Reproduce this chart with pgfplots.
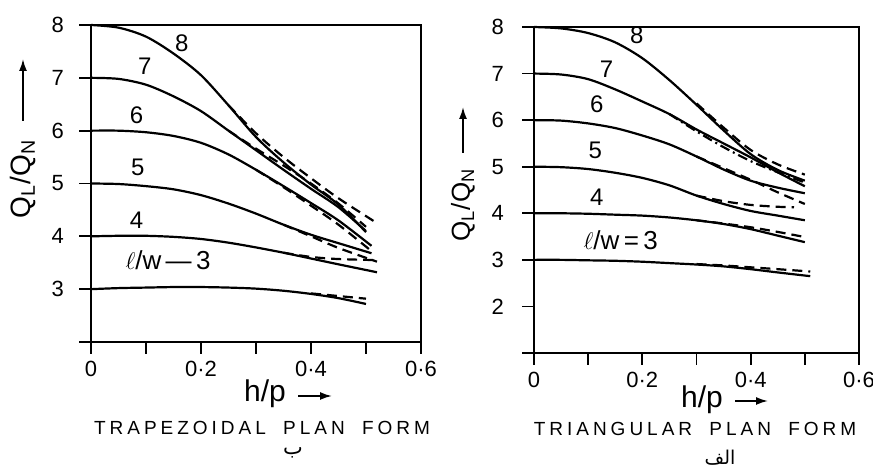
\documentclass[border=0pt]{standalone}
\usepackage{fontspec}
\setmainfont{Liberation Sans}
\newfontfamily\arabicfont[Script=Arabic]{DejaVu Sans}
\usepackage{pgfplots}
\pgfplotsset{compat=1.18}
\usetikzlibrary{arrows.meta}
\TeXXeTstate=1
\pgfplotsset{
  panel/.style={
    scale only axis, clip=false,
    xmin=0, xmax=0.6,
    xtick={0,0.2,0.4,0.6}, xticklabels={0,0·2,0·4,0·6},
    minor xtick={0.1,0.3,0.5},
    tick pos=left, tick align=outside,
    major tick length=6pt, minor tick length=6pt,
    axis line style={line width=0.9pt},
    tick style={black, line width=0.9pt},
    ticklabel style={font=\fontsize{11}{13}\selectfont},
    /pgf/number format/assume math mode=true,
    cycle list={{black,solid}},
    every axis plot/.append style={black, line width=1.1pt, no markers, smooth},
  },
}
\tikzset{
  dsh/.style={dash pattern=on 5pt off 3pt},
  cl/.style={font=\fontsize{12}{14}\selectfont},
  lw/.style={font=\fontsize{13}{15}\selectfont},
}
\begin{document}
\begin{tikzpicture}
\useasboundingbox (0,0) rectangle (436.5pt,235.5pt);
% ---------------- left: trapezoidal
\begin{axis}[panel, at={(45.5pt,64.5pt)}, anchor=south west,
  width=165pt, height=158.5pt, ymin=2, ymax=8,
  ytick={2,3,4,5,6,7,8}, yticklabels={,3,4,5,6,7,8},
  yticklabel style={xshift=-4pt}]
\addplot coordinates {(0,8)(0.05,7.95)(0.1,7.78)(0.15,7.46)(0.2,7.05)(0.25,6.48)(0.3,5.88)(0.35,5.40)(0.4,4.98)(0.45,4.6)(0.5,4.08)};
\addplot[dsh] coordinates {(0.25,6.48)(0.3,5.95)(0.35,5.5)(0.4,5.1)(0.45,4.72)(0.52,4.25)};
\addplot coordinates {(0,7)(0.05,6.98)(0.1,6.87)(0.15,6.65)(0.2,6.37)(0.25,6.0)(0.3,5.63)(0.35,5.26)(0.4,4.9)(0.45,4.55)(0.5,4.1)};
\addplot[dsh] coordinates {(0.25,6.0)(0.3,5.66)(0.35,5.34)(0.4,5.0)(0.45,4.62)(0.5,4.18)};
\addplot coordinates {(0,6)(0.05,6.0)(0.1,5.97)(0.15,5.9)(0.2,5.77)(0.25,5.55)(0.3,5.26)(0.35,4.95)(0.4,4.63)(0.45,4.3)(0.51,3.82)};
\addplot[dsh] coordinates {(0.3,5.26)(0.35,4.93)(0.4,4.58)(0.45,4.22)(0.51,3.72)};
\addplot coordinates {(0,5)(0.05,4.99)(0.1,4.95)(0.15,4.89)(0.2,4.78)(0.25,4.62)(0.3,4.43)(0.35,4.22)(0.4,4.03)(0.45,3.87)(0.51,3.68)};
\addplot[dsh] coordinates {(0.35,4.22)(0.4,4.0)(0.45,3.78)(0.52,3.52)};
\addplot coordinates {(0,4)(0.05,4.01)(0.1,4.01)(0.15,3.99)(0.2,3.95)(0.25,3.88)(0.3,3.79)(0.35,3.69)(0.4,3.58)(0.45,3.47)(0.52,3.32)};
\addplot[dsh] coordinates {(0.35,3.69)(0.4,3.61)(0.45,3.57)(0.52,3.55)};
\addplot coordinates {(0,3)(0.05,3.02)(0.1,3.03)(0.15,3.04)(0.2,3.04)(0.25,3.03)(0.3,3.01)(0.35,2.97)(0.4,2.91)(0.45,2.83)(0.5,2.72)};
\addplot[dsh] coordinates {(0.4,2.92)(0.45,2.87)(0.5,2.82)};
\node[cl] at (axis cs:0.165,7.65) {8};
\node[cl] at (axis cs:0.098,7.22) {7};
\node[cl] at (axis cs:0.083,6.3) {6};
\node[cl] at (axis cs:0.085,5.3) {5};
\node[cl] at (axis cs:0.083,4.3) {4};
\node[lw] at (axis cs:0.14,3.55) {$\ell$/w\,—\,3};
\end{axis}
% ---------------- right: triangular
\begin{axis}[panel, at={(267pt,59pt)}, anchor=south west,
  width=162.5pt, height=163pt, ymin=1, ymax=8,
  ytick={1,2,3,4,5,6,7,8}, yticklabels={,2,3,4,5,6,7,8},
  yticklabel style={xshift=-5.5pt}]
\addplot coordinates {(0,8)(0.05,7.97)(0.1,7.87)(0.15,7.67)(0.2,7.33)(0.25,6.86)(0.3,6.33)(0.35,5.78)(0.4,5.27)(0.45,4.93)(0.5,4.7)};
\addplot[dsh] coordinates {(0.3,6.36)(0.35,5.84)(0.4,5.36)(0.45,5.05)(0.5,4.83)};
\addplot coordinates {(0,7)(0.05,6.98)(0.1,6.88)(0.15,6.66)(0.2,6.4)(0.25,6.13)(0.3,5.8)(0.35,5.5)(0.4,5.2)(0.45,4.88)(0.5,4.58)};
\addplot[dash pattern=on 5pt off 2pt on 1pt off 2pt] coordinates {(0.25,6.13)(0.3,5.76)(0.35,5.42)(0.4,5.12)(0.45,4.88)(0.5,4.66)};
\addplot coordinates {(0,6)(0.05,5.99)(0.1,5.93)(0.15,5.83)(0.2,5.67)(0.25,5.48)(0.3,5.22)(0.35,4.94)(0.4,4.7)(0.45,4.55)(0.5,4.43)};
\addplot[dsh] coordinates {(0.3,5.22)(0.35,4.97)(0.4,4.72)(0.45,4.45)(0.5,4.2)};
\addplot coordinates {(0,5)(0.05,4.99)(0.1,4.95)(0.15,4.87)(0.2,4.76)(0.25,4.6)(0.3,4.38)(0.35,4.2)(0.4,4.05)(0.45,3.95)(0.5,3.85)};
\addplot[dsh] coordinates {(0.3,4.38)(0.35,4.26)(0.4,4.18)(0.45,4.14)(0.48,4.13)};
\addplot coordinates {(0,4)(0.05,4.0)(0.1,3.99)(0.15,3.97)(0.2,3.95)(0.25,3.91)(0.3,3.85)(0.35,3.77)(0.4,3.66)(0.45,3.52)(0.5,3.38)};
\addplot[dsh] coordinates {(0.3,3.85)(0.35,3.78)(0.4,3.7)(0.45,3.6)(0.5,3.49)};
\addplot coordinates {(0,3)(0.05,3.0)(0.1,2.99)(0.15,2.98)(0.2,2.96)(0.25,2.93)(0.3,2.9)(0.35,2.86)(0.4,2.8)(0.45,2.73)(0.51,2.65)};
\addplot[dsh] coordinates {(0.3,2.91)(0.35,2.88)(0.4,2.84)(0.45,2.8)(0.51,2.75)};
\node[cl] at (axis cs:0.19,7.82) {8};
\node[cl] at (axis cs:0.134,7.1) {7};
\node[cl] at (axis cs:0.116,6.35) {6};
\node[cl] at (axis cs:0.113,5.35) {5};
\node[cl] at (axis cs:0.116,4.35) {4};
\node[lw] at (axis cs:0.16,3.42) {$\ell$/w\,=\,3};
\end{axis}
% ---------------- axis labels
\node[rotate=90, font=\fontsize{14}{16}\selectfont] at (11.5pt,146pt) {Q\textsubscript{L}/Q\textsubscript{N}};
\draw[line width=0.9pt, -{Latex[length=6pt,width=4pt]}] (11.5pt,175pt) -- (11.5pt,206pt);
\node[rotate=90, font=\fontsize{13}{15}\selectfont] at (231.5pt,133pt) {Q\textsubscript{L}/Q\textsubscript{N}};
\draw[line width=0.9pt, -{Latex[length=6pt,width=4pt]}] (231.5pt,159pt) -- (231.5pt,182pt);
\node[font=\fontsize{15}{17}\selectfont] at (132.5pt,38.5pt) {h/p};
\draw[line width=0.9pt, -{Latex[length=6pt,width=4pt]}] (149pt,37.5pt) -- (166pt,37.5pt);
\node[font=\fontsize{15}{17}\selectfont] at (351pt,35.5pt) {h/p};
\draw[line width=0.9pt, -{Latex[length=6pt,width=4pt]}] (367.5pt,35pt) -- (384pt,35pt);
% titles
\node[font=\fontsize{9.5}{11}\selectfont\addfontfeatures{LetterSpace=21}] at (131pt,21.5pt) {TRAPEZOIDAL\hspace{4pt} PLAN\hspace{4pt} FORM};
\node[font=\fontsize{9.5}{11}\selectfont\addfontfeatures{LetterSpace=21}] at (347.5pt,21pt) {TRIANGULAR\hspace{4pt} PLAN\hspace{4pt} FORM};
\node[font=\arabicfont\fontsize{10.5}{12}\selectfont] at (146.5pt,9pt) {\beginR ب\endR};
\node[font=\arabicfont\fontsize{9.5}{11}\selectfont] at (360pt,6.5pt) {\beginR الف\endR};
\end{tikzpicture}
\end{document}
